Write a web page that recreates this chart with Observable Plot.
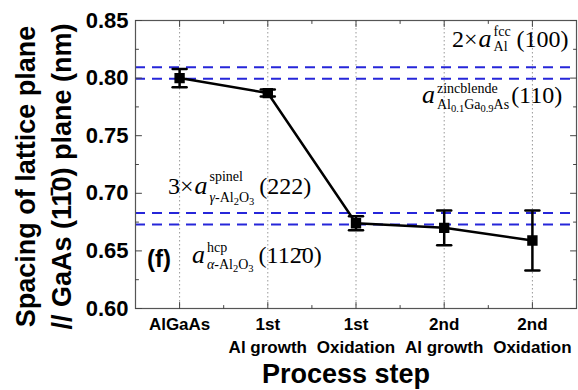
<!DOCTYPE html>
<html><head><meta charset="utf-8">
<script src="https://cdn.jsdelivr.net/npm/d3@7"></script>
<script src="https://cdn.jsdelivr.net/npm/@observablehq/plot@0.6"></script>
<style>
body{margin:0;background:#fff}
#chart svg{display:block}
</style>
</head><body><div id="chart"></div>
<script>
// ---- data ----
const steps = ["AlGaAs", "1st\nAl growth", "1st\nOxidation", "2nd\nAl growth", "2nd\nOxidation"];
const stepPos = [1, 2, 3, 4, 5];
const spacing = [0.800, 0.787, 0.674, 0.670, 0.659];
const errors = [0.008, 0.003, 0.006, 0.015, 0.026];
const refLines = [0.8095, 0.7995, 0.683, 0.673];
const yTicks = [0.60, 0.65, 0.70, 0.75, 0.80, 0.85];
const yMinor = [0.625, 0.675, 0.725, 0.775, 0.825];
const xMinor = [1.5, 2.5, 3.5, 4.5];
const yTitle = "Spacing of lattice plane\n// GaAs (11\u03040) plane (nm)";
const xTitle = "Process step";

const rows = stepPos.map((x, i) => ({x, y: spacing[i], lo: spacing[i] - errors[i], hi: spacing[i] + errors[i]}));

const tickShape = {draw(ctx, l) { ctx.moveTo(0, 0); ctx.lineTo(0, -l); }};
const capShape = {draw(ctx, l) { ctx.moveTo(-l / 2, 0); ctx.lineTo(l / 2, 0); }};
const sans = "'Liberation Sans', Arial, sans-serif";
const serif = "'Liberation Serif', 'Times New Roman', serif";

function ticks(data, anchor, len) {
  const rot = {bottom: 0, top: 180, left: 90, right: -90}[anchor];
  const ch = (anchor === "bottom" || anchor === "top") ? {x: d => d} : {y: d => d};
  return Plot.vector(data, {...ch, frameAnchor: anchor, length: len, rotate: rot, anchor: "start",
    shape: tickShape, stroke: "#444", strokeWidth: 1});
}

const plot = Plot.plot({
  width: 578, height: 390,
  marginLeft: 135, marginRight: 2, marginTop: 20, marginBottom: 82,
  style: {fontFamily: sans, color: "black", background: "white"},
  x: {type: "linear", domain: [0.5, 5.5]},
  y: {domain: [0.6, 0.85]},
  marks: [
    Plot.ruleX(stepPos, {stroke: "#999", strokeWidth: 1, strokeDasharray: "1.5,2.5"}),
    Plot.ruleY(refLines, {stroke: "#2626d9", strokeWidth: 2, strokeDasharray: "10,7"}),
    Plot.frame({stroke: "#555", strokeWidth: 1.2}),
    ticks(stepPos, "bottom", 6), ticks(xMinor, "bottom", 3),
    ticks(stepPos, "top", 6), ticks(xMinor, "top", 3),
    ticks(yTicks, "left", 6), ticks(yMinor, "left", 3),
    ticks(yTicks, "right", 6), ticks(yMinor, "right", 3),
    Plot.ruleX(rows, {x: "x", y1: "lo", y2: "hi", stroke: "black", strokeWidth: 2.5}),
    Plot.vector(rows, {x: "x", y: "lo", length: 14, rotate: 0, anchor: "start", shape: capShape, stroke: "black", strokeWidth: 2.5}),
    Plot.vector(rows, {x: "x", y: "hi", length: 14, rotate: 0, anchor: "start", shape: capShape, stroke: "black", strokeWidth: 2.5}),
    Plot.line(rows, {x: "x", y: "y", stroke: "black", strokeWidth: 2.5}),
    Plot.dot(rows, {x: "x", y: "y", symbol: "square", r: 5, fill: "black", stroke: "black"}),
    Plot.axisY({ticks: yTicks, tickFormat: d3.format(".2f"), tickSize: 0, tickPadding: 7, fontSize: 22, fontWeight: "bold", label: null}),
    Plot.axisX({ticks: stepPos, tickFormat: d => steps[d - 1], tickSize: 0, tickPadding: 5, fontSize: 17, fontWeight: "bold", lineHeight: 1.35, label: null}),
    Plot.text([yTitle], {frameAnchor: "left", textAnchor: "middle", rotate: -90, dx: -94, dy: 12, fontSize: 27, fontWeight: "bold", lineHeight: 1.35, lineAnchor: "middle"}),
    Plot.text([xTitle], {frameAnchor: "bottom", dx: -10, dy: 66, fontSize: 27, fontWeight: "bold", lineAnchor: "middle"})
  ]
});
document.getElementById("chart").append(plot);

// ---- math annotations (anchored in data coordinates through the plot's scales) ----
const sx = plot.scale("x"), sy = plot.scale("y");
const svg = d3.select(plot);
const g = svg.append("g").attr("font-family", serif).attr("fill", "black").attr("text-anchor", "start");
const mctx = document.createElement("canvas").getContext("2d");
function measure(t, size, italic) {
  mctx.font = `${italic ? "italic " : ""}${size}px ${serif}`;
  return mctx.measureText(t).width;
}

function runs(parent, x, y, items) {
  let cx = x;
  for (const it of items) {
    if (it.stack) {
      const w1 = runs(parent, cx, y - it.up, it.stack.sup);
      const w2 = runs(parent, cx, y + it.down, it.stack.sub);
      cx += Math.max(w1, w2) + (it.gap || 2);
    } else {
      parent.append("text").attr("x", cx).attr("y", y + (it.shift || 0)).attr("text-anchor", "start")
        .style("font-size", it.size + "px").style("font-style", it.italic ? "italic" : "normal").text(it.t);
      cx += measure(it.t, it.size, it.italic) + (it.gap || 0);
    }
  }
  return cx - x;
}
const S = 14, SS = 10.5, B = 24, A = 26;
const labels = [
  {x: 4.094, y: 0.8266, items: [
    {t: "2×", size: B, gap: 1}, {t: "a", size: A, italic: true, gap: 2},
    {stack: {sup: [{t: "fcc", size: S}], sub: [{t: "Al", size: S}]}, up: 11, down: 4, gap: 6},
    {t: "(100)", size: B}]},
  {x: 3.754, y: 0.7780, items: [
    {t: "a", size: A, italic: true, gap: 2},
    {stack: {sup: [{t: "zincblende", size: S}], sub: [
      {t: "Al", size: S}, {t: "0.1", size: SS, shift: 3}, {t: "Ga", size: S}, {t: "0.9", size: SS, shift: 3}, {t: "As", size: S}]}, up: 10, down: 6, gap: 2},
    {t: "(110)", size: B}]},
  {x: 0.874, y: 0.6990, items: [
    {t: "3×", size: B, gap: 1}, {t: "a", size: A, italic: true, gap: 2},
    {stack: {sup: [{t: "spinel", size: S}], sub: [
      {t: "γ", size: S, italic: true}, {t: "-Al", size: S}, {t: "2", size: SS, shift: 3}, {t: "O", size: S}, {t: "3", size: SS, shift: 3}]}, up: 13, down: 8, gap: 5},
    {t: "(222)", size: B}]},
  {x: 1.146, y: 0.6391, items: [
    {t: "a", size: A, italic: true, gap: 2},
    {stack: {sup: [{t: "hcp", size: S}], sub: [
      {t: "α", size: S, italic: true}, {t: "-Al", size: S}, {t: "2", size: SS, shift: 3}, {t: "O", size: S}, {t: "3", size: SS, shift: 3}]}, up: 11, down: 6, gap: 5},
    {t: "(112\u03040)", size: B}]}
];
for (const L of labels) runs(g, sx.apply(L.x), sy.apply(L.y), L.items);
svg.append("text").attr("x", sx.apply(0.636)).attr("y", sy.apply(0.6356)).attr("text-anchor", "start")
  .style("font-family", sans).style("font-weight", "bold").style("font-size", "24px").attr("fill", "black").text("(f)");
</script>
</body></html>
